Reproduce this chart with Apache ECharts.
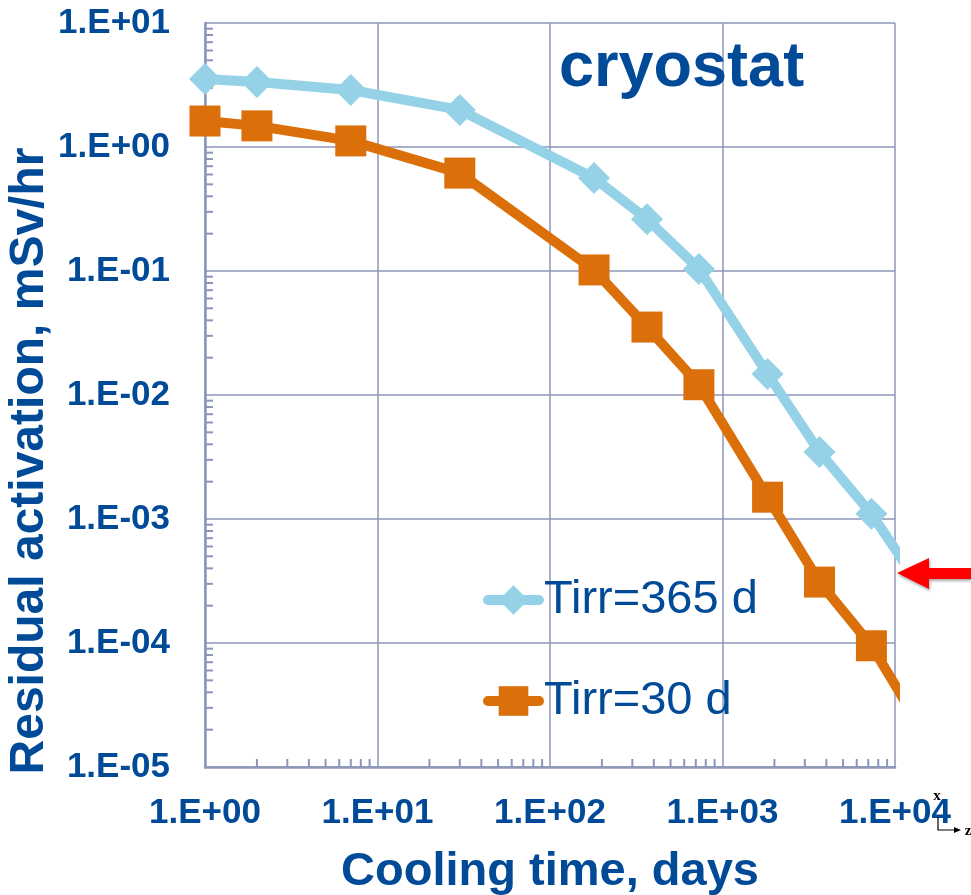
<!DOCTYPE html>
<html>
<head>
<meta charset="utf-8">
<script src="https://cdn.jsdelivr.net/npm/echarts@6/dist/echarts.min.js"></script>
<style>
  html, body { margin: 0; padding: 0; background: #ffffff; }
  #chart { width: 971px; height: 895px; }
</style>
</head>
<body>
<div id="chart"></div>
<script>
// Cooling time (days) at which the residual dose rate was evaluated
const coolingDays = [1, 2, 7, 30, 180, 365, 730, 1825, 3650, 7300, 18250];
// Residual activation, mSv/hr, for two irradiation times
const tirr365 = [3.53, 3.34, 2.88, 1.99, 0.562, 0.262, 0.104, 0.0148, 0.00347, 0.0011, 0.000166];
const tirr30  = [1.62, 1.48, 1.12, 0.616, 0.102, 0.0353, 0.0121, 0.0015, 0.00031, 0.000095, 0.0000115];
const seriesNames = ['Tirr=365 d', 'Tirr=30 d'];

// Decade tick labels
const xTickLabels = ['1.E+00', '1.E+01', '1.E+02', '1.E+03', '1.E+04'];
const yTickLabels = ['1.E-05', '1.E-04', '1.E-03', '1.E-02', '1.E-01', '1.E+00', '1.E+01'];
const xMinExp = 0, yMinExp = -5;

const FONT = 'Arial, "Liberation Sans", Helvetica, sans-serif';
const TEXT_BLUE = '#004A98';
const GRID_COL = '#8C96B9';
const C_BLUE = '#95D2E7';
const C_ORANGE = '#DB700B';

// Log-decade minor tick positions (2..9 within each decade)
const yMinor = [];
for (let e = yMinExp; e < yMinExp + yTickLabels.length - 1; e++) {
  for (let k = 2; k <= 9; k++) yMinor.push([1, k * Math.pow(10, e)]);
}
const xMinor = [];
for (let e = xMinExp; e < xMinExp + xTickLabels.length - 1; e++) {
  for (let k = 2; k <= 9; k++) xMinor.push([k * Math.pow(10, e), Math.pow(10, yMinExp)]);
}

const chart = echarts.init(document.getElementById('chart'), null, { renderer: 'canvas' });

chart.setOption({
  animation: false,
  backgroundColor: '#ffffff',
  grid: { left: 205, right: 76, top: 23, bottom: 128, containLabel: false, outerBoundsMode: 'none' },
  xAxis: {
    type: 'log',
    logBase: 10,
    min: 1,
    max: 10000,
    splitNumber: 4,
    name: 'Cooling time, days',
    nameLocation: 'middle',
    nameGap: 82,
    nameTextStyle: { fontFamily: FONT, fontWeight: 'bold', fontSize: 47, color: TEXT_BLUE },
    axisLine: { show: true, lineStyle: { color: GRID_COL, width: 2.5 } },
    axisTick: { show: false },
    splitLine: { show: true, lineStyle: { color: GRID_COL, width: 1.5 } },
    axisLabel: {
      margin: 29,
      fontFamily: FONT, fontWeight: 'bold', fontSize: 35, color: TEXT_BLUE,
      formatter: v => xTickLabels[Math.round(Math.log10(v)) - xMinExp]
    }
  },
  yAxis: {
    type: 'log',
    logBase: 10,
    min: 1e-5,
    max: 10,
    splitNumber: 6,
    axisLine: { show: true, lineStyle: { color: GRID_COL, width: 2.5 } },
    axisTick: { show: false },
    splitLine: { show: true, lineStyle: { color: GRID_COL, width: 1.5 } },
    axisLabel: {
      margin: 35,
      fontFamily: FONT, fontWeight: 'bold', fontSize: 35, color: TEXT_BLUE,
      formatter: v => yTickLabels[Math.round(Math.log10(v)) - yMinExp]
    }
  },
  legend: {
    data: seriesNames,
    orient: 'vertical',
    left: 483,
    top: 575,
    padding: 0,
    itemWidth: 51,
    itemHeight: 37,
    itemGap: 51,
    lineStyle: { width: 10, cap: 'round' },
    textStyle: { fontFamily: FONT, fontSize: 47, color: TEXT_BLUE, lineHeight: 50 }
  },
  series: [
    {
      type: 'custom',
      silent: true,
      z: 1,
      clip: false,
      data: yMinor,
      renderItem: (params, api) => {
        const p = api.coord([api.value(0), api.value(1)]);
        return { type: 'line', shape: { x1: p[0], y1: p[1], x2: p[0] + 8, y2: p[1] },
                 style: { stroke: GRID_COL, lineWidth: 2 } };
      }
    },
    {
      type: 'custom',
      silent: true,
      z: 1,
      clip: false,
      data: xMinor,
      renderItem: (params, api) => {
        const p = api.coord([api.value(0), api.value(1)]);
        return { type: 'line', shape: { x1: p[0], y1: p[1], x2: p[0], y2: p[1] - 8 },
                 style: { stroke: GRID_COL, lineWidth: 2 } };
      }
    },
    {
      name: seriesNames[0],
      type: 'line',
      z: 3,
      clip: true,
      data: coolingDays.map((d, i) => [d, tirr365[i]]),
      symbol: 'diamond',
      symbolSize: 32,
      showAllSymbol: true,
      color: C_BLUE,
      itemStyle: { color: C_BLUE },
      lineStyle: { color: C_BLUE, width: 10, join: 'round', cap: 'round' }
    },
    {
      name: seriesNames[1],
      type: 'line',
      z: 4,
      clip: true,
      data: coolingDays.map((d, i) => [d, tirr30[i]]),
      symbol: 'rect',
      symbolSize: 31,
      showAllSymbol: true,
      color: C_ORANGE,
      itemStyle: { color: C_ORANGE },
      lineStyle: { color: C_ORANGE, width: 10, join: 'round', cap: 'round' }
    }
  ],
  graphic: [
    {
      type: 'text',
      x: 559, y: 69,
      z: 10,
      style: { text: 'cryostat', fontFamily: FONT, fontWeight: 'bold', fontSize: 63,
               fill: TEXT_BLUE, align: 'left', verticalAlign: 'middle' }
    },
    {
      type: 'text',
      x: 30, y: 461,
      rotation: Math.PI / 2,
      z: 10,
      style: { text: 'Residual activation, mSv/hr', fontFamily: FONT, fontWeight: 'bold', fontSize: 48,
               fill: TEXT_BLUE, align: 'center', verticalAlign: 'middle' }
    },
    {
      // red pointer at the right edge
      type: 'polygon',
      z: 10,
      shape: { points: [[897, 573], [929, 558], [929, 568], [971, 568], [971, 579], [929, 579], [929, 589]] },
      style: { fill: '#FF0000', shadowBlur: 3, shadowColor: 'rgba(0,0,0,0.35)', shadowOffsetX: 1, shadowOffsetY: 2 }
    },
    {
      type: 'text', x: 937, y: 796, z: 10,
      style: { text: 'x', fontFamily: '"Liberation Serif", "DejaVu Serif", serif', fontWeight: 'bold',
               fontSize: 15, fill: '#000000', align: 'center', verticalAlign: 'middle' }
    },
    {
      type: 'polyline', z: 10,
      shape: { points: [[938, 817], [938, 830], [955, 830]] },
      style: { stroke: '#000000', lineWidth: 1.2, fill: null }
    },
    {
      type: 'polygon', z: 10,
      shape: { points: [[961, 830], [954, 827], [954, 833]] },
      style: { fill: '#000000' }
    },
    {
      type: 'text', x: 968, y: 831, z: 10,
      style: { text: 'z', fontFamily: '"Liberation Serif", "DejaVu Serif", serif', fontWeight: 'bold',
               fontSize: 15, fill: '#000000', align: 'center', verticalAlign: 'middle' }
    }
  ]
});
</script>
</body>
</html>
